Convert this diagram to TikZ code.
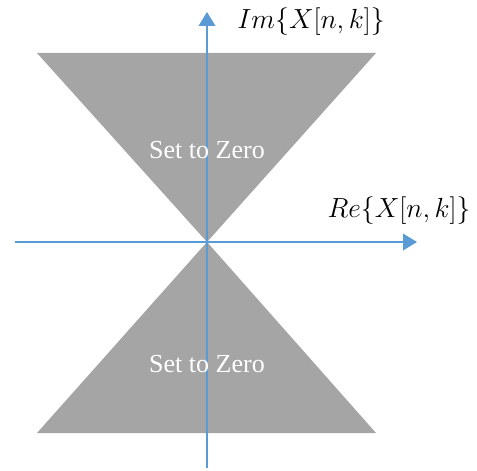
\documentclass[tikz,border=0pt]{standalone}
\usepackage{fontspec}
\setmainfont{Liberation Serif}
\usetikzlibrary{arrows.meta}
\definecolor{axisblue}{RGB}{91,155,213}
\definecolor{conegray}{RGB}{165,165,165}
\tikzset{
    % blue axes with solid triangle tips
    axisarrow/.style={
        line width=1.1pt,
        axisblue,
        -{Triangle[length=10.5pt, width=12.5pt]}
    },
    cone/.style={fill=conegray, draw=none},
    zerolabel/.style={white, font=\fontsize{19.5}{22}\selectfont},
    axislabel/.style={black, font=\fontsize{19.5}{23}\selectfont}
}
\begin{document}
\begin{tikzpicture}[x=0.75pt,y=-0.75pt]
    \useasboundingbox (0,0) rectangle (477,470);
    \path
    (37,53) coordinate (t1)
    (376,53) coordinate (t2)
    (207,242) coordinate (o)
    (37,433) coordinate (d1)
    (376,433) coordinate (d2)
    (15,242) coordinate (xl)
    (417,242) coordinate (xr)
    (207,468) coordinate (yb)
    (207,12) coordinate (yt);
    % ===================== cones =====================
    \fill[cone] (t1) -- (t2) -- (o) -- cycle;
    \fill[cone] (o) -- (d2) -- (d1) -- cycle;
    % ===================== axes =====================
    \draw[axisarrow] (xl) to (xr);
    \draw[axisarrow] (yb) to (yt);
    %label
    \node[zerolabel] (zup) at (207,150) {Set to Zero};
    \node[zerolabel] (zdown) at (207,364) {Set to Zero};
    \node[axislabel] (im) at (311,22) {$Im\{X[n,k]\}$};
    \node[axislabel] (re) at (399,211) {$Re\{X[n,k]\}$};
\end{tikzpicture}
\end{document}
